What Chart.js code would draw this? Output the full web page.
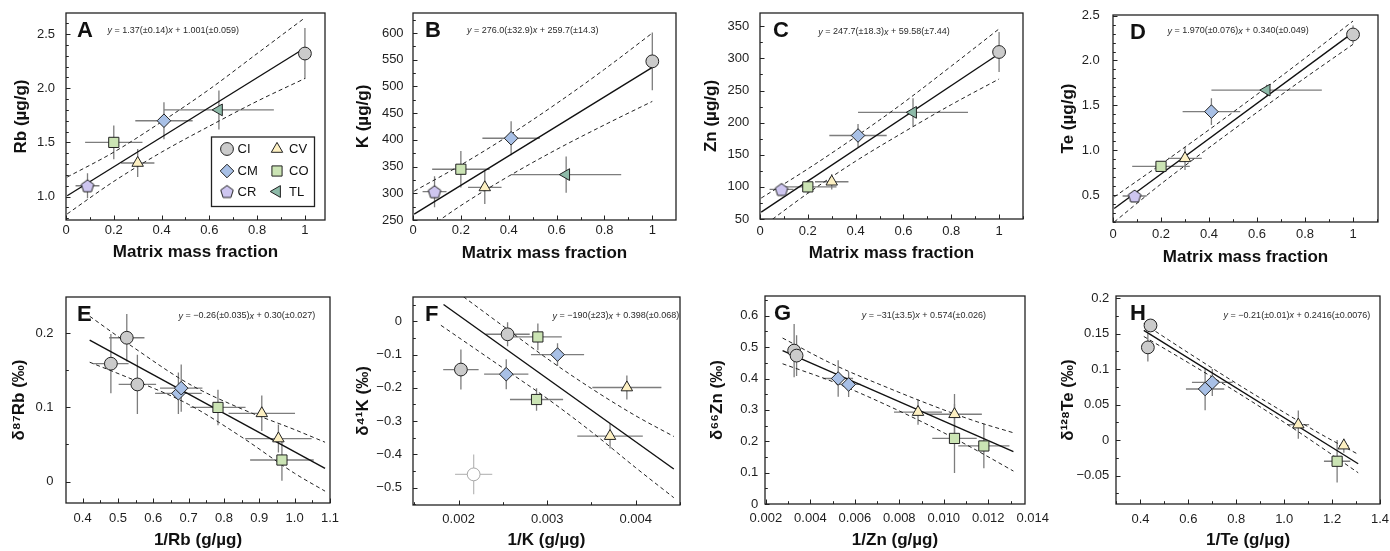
<!DOCTYPE html>
<html>
<head>
<meta charset="utf-8">
<script src="https://cdn.jsdelivr.net/npm/chart.js@4.4.1/dist/chart.umd.min.js"></script>
<style>
  body { margin: 0; background: #fff; width: 1390px; height: 551px; position: relative; overflow: hidden; }
  canvas { position: absolute; }
</style>
</head>
<body>
<canvas id="chartA"></canvas>
<canvas id="chartB"></canvas>
<canvas id="chartC"></canvas>
<canvas id="chartD"></canvas>
<canvas id="chartE"></canvas>
<canvas id="chartF"></canvas>
<canvas id="chartG"></canvas>
<canvas id="chartH"></canvas>
<script>
"use strict";

// ---- concentrations vs matrix fraction (top row), order CI CM CR CV CO TL ----
const topGroups = ['CI', 'CM', 'CR', 'CV', 'CO', 'TL'];
const matrixFrac = [1.0, 0.41, 0.09, 0.30, 0.20, 0.64];
const matrixFracErr = [0, 0.12, 0.05, 0.07, 0.12, 0.23];

const rbConc = [2.32, 1.70, 1.10, 1.31, 1.50, 1.80];
const rbConcErr = [0.235, 0.17, 0.115, 0.13, 0.155, 0.18];
const kConc = [547, 403, 303, 311, 345, 335];
const kConcErr = [54, 32, 29, 31, 34, 34];
const znConc = [310, 180, 96, 108, 100, 216];
const znConcErr = [31, 18, 9, 12, 10, 22];
const teConc = [2.29, 1.43, 0.49, 0.91, 0.82, 1.67];
const teConcErr = [0.1, 0.15, 0.04, 0.13, 0.05, 0.06];

// ---- isotope composition vs inverse concentration (bottom row) ----
const rbIsoGroups = ['CI', 'CI', 'CI', 'CM', 'CM', 'CO', 'CV', 'CV', 'CO'];
const rbInv = [0.525, 0.48, 0.555, 0.671, 0.679, 0.783, 0.907, 0.954, 0.964];
const rbInvErr = [0.05, 0.05, 0.053, 0.066, 0.06, 0.078, 0.094, 0.094, 0.09];
const d87Rb = [0.194, 0.159, 0.131, 0.119, 0.126, 0.100, 0.092, 0.058, 0.029];
const d87RbErr = [0.032, 0.04, 0.04, 0.028, 0.032, 0.024, 0.024, 0.019, 0.028];

const kIsoGroups = ['CI', 'CI', 'CIx', 'CO', 'CO', 'CM', 'CM', 'CV', 'CV'];
const kInv = [0.002553, 0.002026, 0.00217, 0.002895, 0.00288, 0.003117, 0.002538, 0.0039, 0.00371];
const kInvErr = [0.00025, 0.0002, 0.00021, 0.00027, 0.0003, 0.0003, 0.00025, 0.00039, 0.00037];
const d41K = [-0.039, -0.145, -0.46, -0.047, -0.235, -0.10, -0.159, -0.199, -0.345];
const d41KErr = [0.036, 0.06, 0.06, 0.04, 0.034, 0.034, 0.045, 0.036, 0.037];

const znIsoGroups = ['CI', 'CI', 'CM', 'CM', 'CV', 'CV', 'CO', 'CO'];
const znInv = [0.00327, 0.00338, 0.00525, 0.00572, 0.00884, 0.01048, 0.01048, 0.0118];
const znInvErr = [0.0001, 0.0001, 0.00067, 0.00055, 0.00108, 0.00123, 0.001, 0.00115];
const d66Zn = [0.489, 0.473, 0.400, 0.381, 0.293, 0.286, 0.209, 0.185];
const d66ZnErr = [0.085, 0.065, 0.058, 0.04, 0.04, 0.065, 0.11, 0.071];

const teIsoGroups = ['CI', 'CI', 'CM', 'CM', 'CV', 'CV', 'CO'];
const teInv = [0.442, 0.431, 0.67, 0.70, 1.059, 1.249, 1.221];
const teInvErr = [0.01, 0.01, 0.08, 0.085, 0.045, 0.02, 0.055];
const d128Te = [0.1615, 0.1306, 0.072, 0.0813, 0.0218, -0.0078, -0.0298];
const d128TeErr = [0.008, 0.02, 0.03, 0.019, 0.02, 0.01, 0.03];

// ---- regressions: [slope, ±, intercept, ±] as printed, and x extent of the line ----
const rbFit = ['1.37', '0.14', '1.001', '0.059'];
const kFit = ['276.0', '32.9', '259.7', '14.3'];
const znFit = ['247.7', '18.3', '59.58', '7.44'];
const teFit = ['1.970', '0.076', '0.340', '0.049'];
const rbIsoFit = ['-0.26', '0.035', '0.30', '0.027'];
const kIsoFit = ['-190', '23', '0.398', '0.068'];
const znIsoFit = ['-31', '3.5', '0.574', '0.026'];
const teIsoFit = ['-0.21', '0.01', '0.2416', '0.0076'];

const topFitRange = [0.005, 1.0];
const rbIsoFitRange = [0.42, 1.086];
const kIsoFitRange = [0.00183, 0.00443];
const znIsoFitRange = [0.00275, 0.01313];
const teIsoFitRange = [0.414, 1.309];

// ---- confidence envelopes ----
const topBandX = [0.005, 0.2, 0.4, 0.6, 0.8, 1.0];
const rbBandHi = [1.18, 1.41, 1.69, 1.99, 2.32, 2.65];
const rbBandLo = [0.84, 1.14, 1.41, 1.65, 1.88, 2.09];
const kBandHi = [304, 353, 408, 468, 532, 600];
const kBandLo = [216, 277, 332, 382, 428, 472];
const znBandHi = [82.6, 128, 178, 231, 288, 346];
const znBandLo = [36.6, 90, 140, 185, 228, 268];
const teBandHi = [0.48, 0.844, 1.228, 1.622, 2.026, 2.44];
const teBandLo = [0.20, 0.624, 1.028, 1.422, 1.806, 2.18];

const rbIsoBandX = [0.42, 0.55, 0.7, 0.85, 1.0, 1.086];
const rbIsoBandHi = [0.223, 0.179, 0.132, 0.098, 0.070, 0.053];
const rbIsoBandLo = [0.161, 0.136, 0.104, 0.060, 0.011, -0.013];
const kIsoBandX = [0.0018, 0.0025, 0.003, 0.0035, 0.004, 0.00443];
const kIsoBandHi = [0.124, -0.014, -0.112, -0.202, -0.284, -0.346];
const kIsoBandLo = [-0.012, -0.140, -0.232, -0.332, -0.44, -0.53];
const znIsoBandX = [0.00275, 0.005, 0.0075, 0.01, 0.0115, 0.01313];
const znIsoBandHi = [0.529, 0.446, 0.37, 0.30, 0.262, 0.227];
const znIsoBandLo = [0.447, 0.39, 0.313, 0.227, 0.17, 0.105];
const teIsoBandX = [0.414, 0.6, 0.8, 1.0, 1.15, 1.309];
const teIsoBandHi = [0.164, 0.123, 0.080, 0.039, 0.009, -0.020];
const teIsoBandLo = [0.146, 0.109, 0.068, 0.025, -0.009, -0.046];

// ---- tick values ----
const fracTicks = [0, 0.2, 0.4, 0.6, 0.8, 1];
const rbTicks = [1.0, 1.5, 2.0, 2.5];
const kTicks = [250, 300, 350, 400, 450, 500, 550, 600];
const znTicks = [50, 100, 150, 200, 250, 300, 350];
const teTicks = [0.5, 1.0, 1.5, 2.0, 2.5];
const rbInvTicks = [0.4, 0.5, 0.6, 0.7, 0.8, 0.9, 1.0, 1.1];
const d87RbTicks = [0, 0.1, 0.2];
const kInvTicks = [0.002, 0.003, 0.004];
const d41KTicks = [0, -0.1, -0.2, -0.3, -0.4, -0.5];
const znInvTicks = [0.002, 0.004, 0.006, 0.008, 0.010, 0.012, 0.014];
const d66ZnTicks = [0, 0.1, 0.2, 0.3, 0.4, 0.5, 0.6];
const teInvTicks = [0.4, 0.6, 0.8, 1.0, 1.2, 1.4];
const d128TeTicks = [-0.05, 0, 0.05, 0.1, 0.15, 0.2];

Chart.defaults.font.family = '"Liberation Sans", Arial, sans-serif';
Chart.defaults.color = '#1a1a1a';

const INK = '#222';

const pentagon = (r, fill) => {
  const s = Math.ceil(2 * r + 4);
  const c = document.createElement('canvas');
  c.width = s;
  c.height = s;
  const g = c.getContext('2d');
  g.beginPath();
  for (let i = 0; i < 5; i++) {
    const a = -Math.PI / 2 + i * 2 * Math.PI / 5;
    const px = s / 2 + r * Math.cos(a);
    const py = s / 2 + r * 0.1 + r * Math.sin(a);
    if (i) g.lineTo(px, py); else g.moveTo(px, py);
  }
  g.closePath();
  g.fillStyle = fill;
  g.fill();
  g.strokeStyle = INK;
  g.lineWidth = 1;
  g.stroke();
  return c;
};

const groupStyle = {
  CI: { shape: 'circle', r: 6.4, rot: 0, fill: '#cbcbcb', line: INK, err: '#7d7d7d' },
  CIx: { shape: 'circle', r: 6.4, rot: 0, fill: '#ffffff', line: '#a8a8a8', err: '#bdbdbd' },
  CM: { shape: 'rectRot', r: 6.8, rot: 0, fill: '#a8c0e6', line: INK, err: '#7d7d7d' },
  CR: { shape: pentagon(6.6, '#cec6f0'), r: 6.6, rot: 0, fill: '#cec6f0', line: INK, err: '#7d7d7d' },
  CV: { shape: 'triangle', r: 6.6, rot: 0, fill: '#fdf0c2', line: INK, err: '#7d7d7d' },
  CO: { shape: 'rect', r: 7.2, rot: 0, fill: '#cbe4b4', line: INK, err: '#7d7d7d' },
  TL: { shape: 'triangle', r: 6.8, rot: -90, fill: '#8dbaa8', line: INK, err: '#7d7d7d' },
};

const minus = (s) => s.replace('-', '\u2212');

const fmt = (v, dec) => minus(dec == null ? String(Number(v.toFixed(4))) : v.toFixed(dec));

const pointSets = (groups, xs, ys, xe, ye) => {
  const seen = [];
  groups.forEach((g) => { if (!seen.includes(g)) seen.push(g); });
  return seen.map((g) => {
    const st = groupStyle[g];
    const data = [];
    groups.forEach((gg, i) => {
      if (gg === g) data.push({ x: xs[i], y: ys[i], xe: xe[i], ye: ye[i] });
    });
    return {
      label: g,
      data,
      errColor: st.err,
      pointStyle: st.shape,
      pointRadius: st.r,
      pointRotation: st.rot,
      pointBackgroundColor: st.fill,
      pointBorderColor: st.line,
      pointBorderWidth: 1,
      showLine: false,
      order: 1,
    };
  });
};

const fitSets = (fit, range, bandX, hi, lo) => {
  const slope = Number(fit[0]);
  const icpt = Number(fit[2]);
  const band = (ys) => ({
    data: bandX.map((x, i) => ({ x, y: ys[i] })),
    showLine: true,
    borderColor: INK,
    borderWidth: 1,
    borderDash: [4, 3],
    pointRadius: 0,
    cubicInterpolationMode: 'monotone',
    order: 3,
  });
  return [
    band(hi),
    band(lo),
    {
      data: range.map((x) => ({ x, y: slope * x + icpt })),
      showLine: true,
      borderColor: '#111',
      borderWidth: 1.4,
      pointRadius: 0,
      order: 2,
    },
  ];
};

// error bars, inward tick marks, frame, panel letter, equation and legend
const panelDecor = {
  id: 'panelDecor',
  beforeDatasetsDraw(chart) {
    const { ctx, scales: { x, y } } = chart;
    ctx.save();
    ctx.beginPath();
    ctx.rect(chart.chartArea.left, chart.chartArea.top, chart.chartArea.width, chart.chartArea.height);
    ctx.clip();
    ctx.lineWidth = 1.3;
    chart.data.datasets.forEach((ds) => {
      if (!ds.errColor) return;
      ctx.strokeStyle = ds.errColor;
      ds.data.forEach((p) => {
        const px = x.getPixelForValue(p.x);
        const py = y.getPixelForValue(p.y);
        ctx.beginPath();
        if (p.xe) {
          ctx.moveTo(x.getPixelForValue(p.x - p.xe), py);
          ctx.lineTo(x.getPixelForValue(p.x + p.xe), py);
        }
        if (p.ye) {
          ctx.moveTo(px, y.getPixelForValue(p.y - p.ye));
          ctx.lineTo(px, y.getPixelForValue(p.y + p.ye));
        }
        ctx.stroke();
      });
    });
    ctx.restore();
  },
  afterDraw(chart, args, opts) {
    const { ctx, chartArea: a, scales: { x, y } } = chart;
    ctx.save();
    ctx.strokeStyle = INK;
    ctx.lineWidth = 1.3;
    ctx.strokeRect(a.left, a.top, a.width, a.height);

    ctx.lineWidth = 1;
    const marks = (scale, step, horiz) => {
      const major = scale.ticks.map((t) => t.value);
      const first = Math.ceil(scale.min / step - 1e-6);
      const last = Math.floor(scale.max / step + 1e-6);
      for (let k = first; k <= last; k++) {
        const v = k * step;
        const isMajor = major.some((m) => Math.abs(m - v) < step * 1e-3);
        const len = isMajor ? 4.5 : 2.8;
        const p = Math.round(scale.getPixelForValue(v)) + 0.5;
        ctx.beginPath();
        if (horiz) {
          ctx.moveTo(p, a.bottom);
          ctx.lineTo(p, a.bottom - len);
        } else {
          ctx.moveTo(a.left, p);
          ctx.lineTo(a.left + len, p);
        }
        ctx.stroke();
      }
    };
    marks(x, opts.minorX, true);
    marks(y, opts.minorY, false);

    ctx.fillStyle = '#111';
    ctx.textBaseline = 'alphabetic';
    ctx.font = 'bold 22px "Liberation Sans", Arial, sans-serif';
    ctx.fillText(opts.letter, a.left + opts.letterDx, a.top + 23.5);

    const f = opts.fit;
    const parts = [
      ['italic', 'y'],
      ['normal', ` = ${minus(f[0])}(\u00b1${f[1]})`],
      ['italic', 'x'],
      ['normal', ` + ${f[2]}(\u00b1${f[3]})`],
    ];
    ctx.textBaseline = 'middle';
    ctx.fillStyle = '#2a2a2a';
    let ex = a.left + opts.eq[0];
    parts.forEach(([style, txt]) => {
      ctx.font = `${style} 9px "Liberation Sans", Arial, sans-serif`;
      ctx.fillText(txt, ex, a.top + opts.eq[1]);
      ex += ctx.measureText(txt).width;
    });

    if (opts.legend) {
      const bx = a.right - 113.5;
      const by = a.bottom - 83;
      ctx.lineWidth = 1.3;
      ctx.strokeStyle = INK;
      ctx.fillStyle = '#fff';
      ctx.fillRect(bx, by, 103, 69.5);
      ctx.strokeRect(bx, by, 103, 69.5);
      const cells = [['CI', 0, 0], ['CV', 1, 0], ['CM', 0, 1], ['CO', 1, 1], ['CR', 0, 2], ['TL', 1, 2]];
      const rowsY = [12, 34, 54.5];
      ctx.font = '13px "Liberation Sans", Arial, sans-serif';
      ctx.textBaseline = 'middle';
      cells.forEach(([g, col, row]) => {
        const st = groupStyle[g];
        const mx = bx + 15.5 + col * 50;
        const my = by + rowsY[row];
        ctx.fillStyle = st.fill;
        ctx.strokeStyle = st.line;
        ctx.lineWidth = 1;
        Chart.helpers.drawPoint(ctx, { pointStyle: st.shape, radius: st.r, rotation: st.rot, borderWidth: 1 }, mx, my);
        ctx.fillStyle = '#111';
        ctx.fillText(g, mx + 10.5 + (col ? 1.5 : 0), my + 0.5);
      });
    }
    ctx.restore();
  },
};

const axis = (o, horiz) => ({
  type: 'linear',
  min: o.min,
  max: o.max,
  grid: { display: false, drawTicks: false },
  border: { display: false },
  ticks: {
    autoSkip: false,
    maxRotation: 0,
    padding: o.pad,
    font: { size: 13 },
    color: '#1e1e1e',
    callback: (v) => fmt(v, o.dec),
  },
  title: {
    display: true,
    text: o.title,
    color: '#111',
    font: { size: 17, weight: 'bold' },
    padding: horiz ? { top: 0, bottom: o.tpad } : { top: o.tpad, bottom: 0 },
  },
  afterBuildTicks: (s) => { s.ticks = o.ticks.map((v) => ({ value: v })); },
  afterFit: (s) => {
    if (horiz) s.height = 50; else s.width = 66;
    s.paddingLeft = 0;
    s.paddingRight = 0;
    s.paddingTop = 0;
    s.paddingBottom = 0;
  },
});

const PAD_T = 12;
const PAD_R = 30;

const makePanel = (id, p) => {
  const [L, T, R, B] = p.area;
  const canvas = document.getElementById(id);
  const w = R - L + 66 + PAD_R;
  const h = B - T + PAD_T + 50;
  canvas.width = w;
  canvas.height = h;
  canvas.style.left = `${L - 66}px`;
  canvas.style.top = `${T - PAD_T}px`;
  canvas.style.width = `${w}px`;
  canvas.style.height = `${h}px`;

  return new Chart(canvas, {
    type: 'scatter',
    data: { datasets: [...p.sets] },
    options: {
      responsive: false,
      animation: false,
      events: [],
      layout: { padding: { left: 0, top: PAD_T, right: PAD_R, bottom: 0 } },
      scales: { x: axis(p.x, true), y: axis(p.y, false) },
      plugins: {
        legend: { display: false },
        tooltip: { enabled: false },
        panelDecor: p.decor,
      },
    },
    plugins: [panelDecor],
  });
};

const fracAxis = (max, pad, tpad) => ({
  min: 0, max, ticks: fracTicks, dec: null, pad, tpad, title: 'Matrix mass fraction',
});

makePanel('chartA', {
  area: [66, 13, 325, 220],
  sets: [...fitSets(rbFit, topFitRange, topBandX, rbBandHi, rbBandLo),
    ...pointSets(topGroups, matrixFrac, rbConc, matrixFracErr, rbConcErr)],
  x: fracAxis(1.084, 3, 7.8),
  y: { min: 0.784, max: 2.694, ticks: rbTicks, dec: 1, pad: 11, tpad: 10.8, title: 'Rb (\u00b5g/g)' },
  decor: { letter: 'A', letterDx: 11, eq: [41.6, 17.7], fit: rbFit, minorX: 0.1, minorY: 0.1, legend: true },
});

makePanel('chartB', {
  area: [413, 13, 676, 220],
  sets: [...fitSets(kFit, topFitRange, topBandX, kBandHi, kBandLo),
    ...pointSets(topGroups, matrixFrac, kConc, matrixFracErr, kConcErr)],
  x: fracAxis(1.099, 3, 6.5),
  y: { min: 250, max: 637.5, ticks: kTicks, dec: null, pad: 9.4, tpad: 5.8, title: 'K (\u00b5g/g)' },
  decor: { letter: 'B', letterDx: 12, eq: [54, 17.7], fit: kFit, minorX: 0.1, minorY: 25 },
});

makePanel('chartC', {
  area: [760, 13, 1023, 219],
  sets: [...fitSets(znFit, topFitRange, topBandX, znBandHi, znBandLo),
    ...pointSets(topGroups, matrixFrac, znConc, matrixFracErr, znConcErr)],
  x: fracAxis(1.1, 5, 5.8),
  y: { min: 50, max: 370.7, ticks: znTicks, dec: null, pad: 10.7, tpad: 7.5, title: 'Zn (\u00b5g/g)' },
  decor: { letter: 'C', letterDx: 13, eq: [58.3, 19], fit: znFit, minorX: 0.1, minorY: 25 },
});

makePanel('chartD', {
  area: [1113, 15, 1378, 222],
  sets: [...fitSets(teFit, topFitRange, topBandX, teBandHi, teBandLo),
    ...pointSets(topGroups, matrixFrac, teConc, matrixFracErr, teConcErr)],
  x: fracAxis(1.104, 4.7, 4.8),
  y: { min: 0.2, max: 2.507, ticks: teTicks, dec: 1, pad: 13.3, tpad: 10.8, title: 'Te (\u00b5g/g)' },
  decor: { letter: 'D', letterDx: 17, eq: [54.4, 16], fit: teFit, minorX: 0.1, minorY: 0.1 },
});

makePanel('chartE', {
  area: [66, 297, 330, 503],
  sets: [...fitSets(rbIsoFit, rbIsoFitRange, rbIsoBandX, rbIsoBandHi, rbIsoBandLo),
    ...pointSets(rbIsoGroups, rbInv, d87Rb, rbInvErr, d87RbErr)],
  x: { min: 0.353, max: 1.1, ticks: rbInvTicks, dec: 1, pad: 8, tpad: 2.4, title: '1/Rb (g/\u00b5g)' },
  y: { min: -0.029, max: 0.249, ticks: d87RbTicks, dec: null, pad: 12.4, tpad: 9.1, title: '\u03b4\u2078\u2077Rb (\u2030)' },
  decor: { letter: 'E', letterDx: 11, eq: [112.6, 19], fit: rbIsoFit, minorX: 0.05, minorY: 0.05 },
});

makePanel('chartF', {
  area: [413, 297, 680, 505],
  sets: [...fitSets(kIsoFit, kIsoFitRange, kIsoBandX, kIsoBandHi, kIsoBandLo),
    ...pointSets(kIsoGroups, kInv, d41K, kInvErr, d41KErr)],
  x: { min: 0.001485, max: 0.0045, ticks: kInvTicks, dec: 3, pad: 6.3, tpad: 4.3, title: '1/K (g/\u00b5g)' },
  y: { min: -0.552, max: 0.073, ticks: d41KTicks, dec: null, pad: 11, tpad: 5.8, title: '\u03b4\u2074\u00b9K (\u2030)' },
  decor: { letter: 'F', letterDx: 12, eq: [139.6, 19], fit: kIsoFit, minorX: 0.0005, minorY: 0.05 },
});

makePanel('chartG', {
  area: [765, 296, 1025, 504],
  sets: [...fitSets(znIsoFit, znIsoFitRange, znIsoBandX, znIsoBandHi, znIsoBandLo),
    ...pointSets(znIsoGroups, znInv, d66Zn, znInvErr, d66ZnErr)],
  x: { min: 0.00196, max: 0.01365, ticks: znInvTicks, dec: 3, pad: 7, tpad: 3.8, title: '1/Zn (g/\u00b5g)' },
  y: { min: 0, max: 0.663, ticks: d66ZnTicks, dec: null, pad: 6.7, tpad: 8.3, title: '\u03b4\u2076\u2076Zn (\u2030)' },
  decor: { letter: 'G', letterDx: 9, eq: [96.7, 19.7], fit: znIsoFit, minorX: 0.001, minorY: 0.05 },
});

makePanel('chartH', {
  area: [1116, 296, 1380, 504],
  sets: [...fitSets(teIsoFit, teIsoFitRange, teIsoBandX, teIsoBandHi, teIsoBandLo),
    ...pointSets(teIsoGroups, teInv, d128Te, teInvErr, d128TeErr)],
  x: { min: 0.298, max: 1.4, ticks: teInvTicks, dec: 1, pad: 8, tpad: 3.3, title: '1/Te (g/\u00b5g)' },
  y: { min: -0.09, max: 0.203, ticks: d128TeTicks, dec: null, pad: 6.7, tpad: 7.8, title: '\u03b4\u00b9\u00b2\u2078Te (\u2030)' },
  decor: { letter: 'H', letterDx: 14, eq: [107.6, 19.7], fit: teIsoFit, minorX: 0.1, minorY: 0.025 },
});
</script>
</body>
</html>
